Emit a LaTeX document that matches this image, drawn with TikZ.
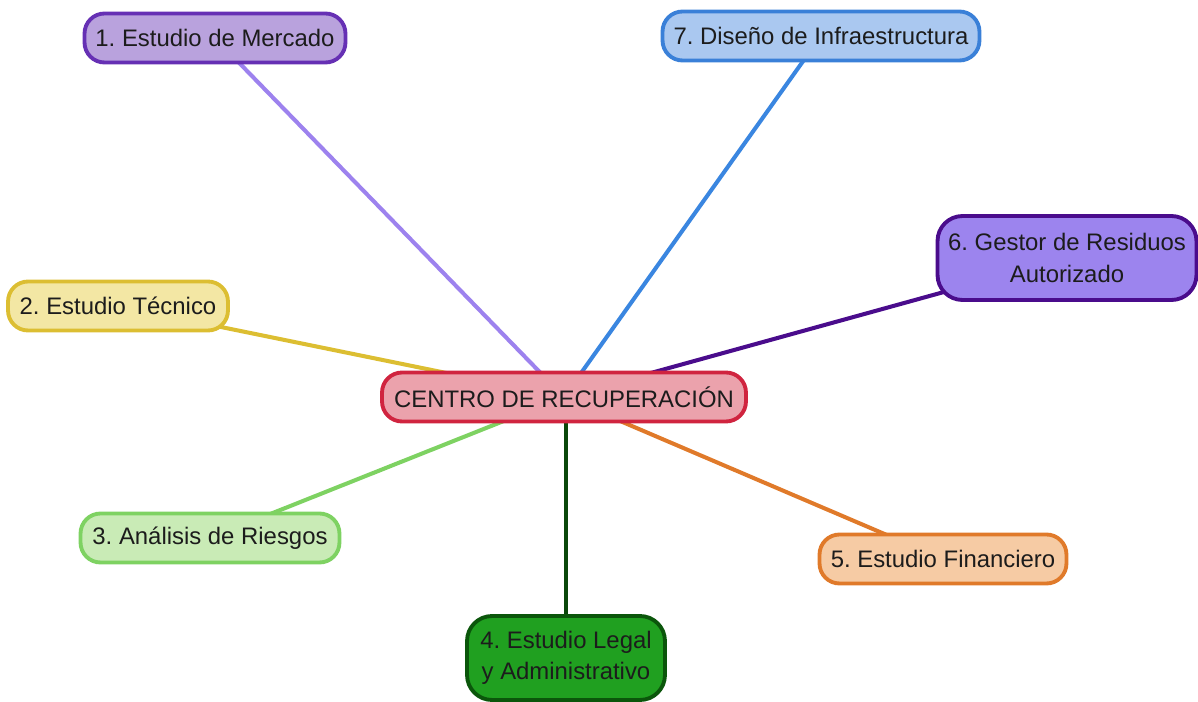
\documentclass[tikz,border=0pt]{standalone}
\usepackage{fontspec}
\setmainfont{Liberation Sans}
\frenchspacing
\usetikzlibrary{shadows, backgrounds}
\definecolor{textoGris}{HTML}{1C1C1C}
\definecolor{centroBorde}{HTML}{D0243F}
\definecolor{centroRelleno}{HTML}{EBA2AC}
\definecolor{mercadoBorde}{HTML}{6630B4}
\definecolor{mercadoRelleno}{HTML}{B9A2DD}
\definecolor{mercadoLinea}{HTML}{9D82EE}
\definecolor{disenoBorde}{HTML}{3A80D8}
\definecolor{disenoRelleno}{HTML}{AAC8F0}
\definecolor{disenoLinea}{HTML}{3A86E0}
\definecolor{gestorBorde}{HTML}{4A0C8C}
\definecolor{gestorRelleno}{HTML}{9C84EE}
\definecolor{tecnicoBorde}{HTML}{DCBE32}
\definecolor{tecnicoRelleno}{HTML}{F3E7A4}
\definecolor{analisisBorde}{HTML}{7ED262}
\definecolor{analisisRelleno}{HTML}{C9EBB6}
\definecolor{financieroBorde}{HTML}{E07A2A}
\definecolor{financieroRelleno}{HTML}{F6CBA4}
\definecolor{legalBorde}{HTML}{0B560B}
\definecolor{legalRelleno}{HTML}{20A020}
\definecolor{legalLinea}{HTML}{0A480A}
\tikzset{
    topic/.style={rectangle, rounded corners=0.4cm, draw, line width=2.2pt, minimum height=0.98cm, inner xsep=0.2cm, align=center, text=textoGris, font=\fontsize{13.6}{17.8}\selectfont, drop shadow={shadow xshift=0.6pt, shadow yshift=-0.8pt, opacity=0.3}},
    two line/.style={minimum height=1.68cm, rounded corners=0.5cm},
    link/.style={line width=2.3pt}
}
\begin{document}
\begin{tikzpicture}[x=0.02cm, y=-0.02cm]
    \useasboundingbox (0,0) rectangle (1198,702);
    \node[topic, draw=centroBorde, fill=centroRelleno, minimum width=7.28cm] (centro) at (564,397) {CENTRO DE RECUPERACIÓN};
    \node[topic, draw=mercadoBorde, fill=mercadoRelleno, minimum width=5.22cm] (mercado) at (215,38) {1. Estudio de Mercado};
    \node[topic, draw=tecnicoBorde, fill=tecnicoRelleno, minimum width=4.4cm] (tecnico) at (118,306) {2. Estudio Técnico};
    \node[topic, draw=analisisBorde, fill=analisisRelleno, minimum width=5.18cm] (analisis) at (210,538) {3. Análisis de Riesgos};
    \node[topic, two line, draw=legalBorde, fill=legalRelleno, minimum width=3.96cm] (legal) at (566,658) {4. Estudio Legal\\y Administrativo};
    \node[topic, draw=financieroBorde, fill=financieroRelleno, minimum width=4.94cm] (financiero) at (943,559) {5. Estudio Financiero};
    \node[topic, two line, draw=gestorBorde, fill=gestorRelleno, minimum width=5.18cm] (gestor) at (1067,258) {6. Gestor de Residuos\\Autorizado};
    \node[topic, draw=disenoBorde, fill=disenoRelleno, minimum width=6.34cm] (diseno) at (821,36) {7. Diseño de Infraestructura};

    \begin{scope}[on background layer]
        \draw[link, mercadoLinea] (centro.center) -- (mercado.center);
        \draw[link, tecnicoBorde] (centro.center) -- (tecnico.center);
        \draw[link, analisisBorde] (centro.center) -- (analisis.center);
        \draw[link, legalLinea] (centro.center -| legal) -- (legal.center);
        \draw[link, financieroBorde] (centro.center) -- (financiero.center);
        \draw[link, gestorBorde] (centro.center) -- (gestor.center);
        \draw[link, disenoLinea] (centro.center) -- (diseno.center);
    \end{scope}
\end{tikzpicture}
\end{document}
